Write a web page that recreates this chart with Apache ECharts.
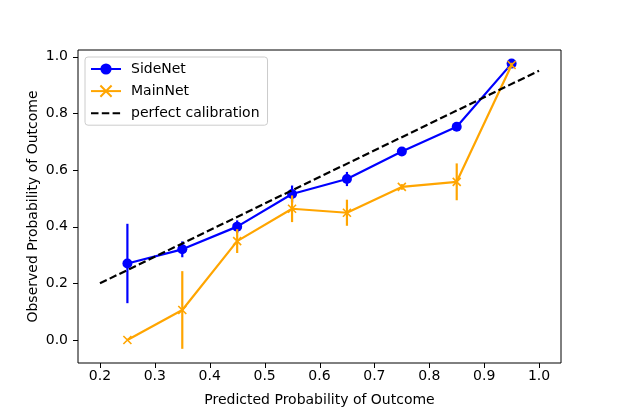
<!DOCTYPE html>
<html>
<head>
<meta charset="utf-8">
<script src="https://cdn.jsdelivr.net/npm/echarts@6/dist/echarts.min.js"></script>
<style>
  html, body { margin: 0; padding: 0; background: #fff; }
  #chart { width: 623px; height: 415px; }
</style>
</head>
<body>
<div id="chart"></div>
<script>
// bin centres and observed rates
const binCenters = [0.25, 0.35, 0.45, 0.55, 0.65, 0.75, 0.85, 0.95];
const sideNetObs = [0.27, 0.32, 0.40, 0.515, 0.568, 0.665, 0.752, 0.975];
const sideNetErr = [0.14, 0.028, 0.022, 0.03, 0.025, 0.008, 0.008, 0.006];
const mainNetObs = [0.0, 0.106, 0.349, 0.463, 0.449, 0.54, 0.558, 0.97];
const mainNetErr = [0.0, 0.137, 0.042, 0.047, 0.046, 0.01, 0.065, 0.008];
const calibX = [0.2, 1.0];
const calibY = [0.2, 0.95];
const xTicks = [0.2, 0.3, 0.4, 0.5, 0.6, 0.7, 0.8, 0.9, 1.0];
const yTicks = [0.0, 0.2, 0.4, 0.6, 0.8, 1.0];

const FONT = 'DejaVu Sans';

// plot area (matplotlib style view limits with 5% padding)
const W = 623, H = 415;
const plot = { left: 78, right: 62, top: 50, bottom: 52 };
const xView = [0.16, 1.04];
const yView = [-0.081, 1.023];

function pairs(xs, ys) {
    return xs.map((x, i) => [x, ys[i]]);
}

function errData(xs, ys, es) {
    return xs.map((x, i) => [x, ys[i] - es[i], ys[i] + es[i]]);
}

// sub-grids whose edges sit exactly on the first/last tick, so the label axes
// can start at a round min and still line up with the data axes
function tickGrids() {
    let x0 = xTicks[0], x1 = xTicks[xTicks.length - 1];
    let y0 = yTicks[0], y1 = yTicks[yTicks.length - 1];
    let pw = W - plot.left - plot.right;
    let ph = H - plot.top - plot.bottom;
    let dx = (x0 - xView[0]) / (xView[1] - xView[0]) * pw;
    let dx2 = (xView[1] - x1) / (xView[1] - xView[0]) * pw;
    let dy = (yView[1] - y1) / (yView[1] - yView[0]) * ph;
    let dy2 = (y0 - yView[0]) / (yView[1] - yView[0]) * ph;
    return [
        { left: plot.left + dx, right: plot.right + dx2, top: plot.top, bottom: plot.bottom },
        { left: plot.left, right: plot.right, top: plot.top + dy, bottom: plot.bottom + dy2 }
    ];
}

function errSeries(name, color, data, z) {
    return {
        name: name,
        type: 'custom',
        z: z,
        data: data,
        encode: { x: 0, y: [1, 2] },
        renderItem: function (params, api) {
            let lo = api.coord([api.value(0), api.value(1)]);
            let hi = api.coord([api.value(0), api.value(2)]);
            return {
                type: 'line',
                shape: { x1: lo[0], y1: lo[1], x2: hi[0], y2: hi[1] },
                style: { stroke: color, lineWidth: 2.2 }
            };
        }
    };
}

function labelAxis(gridIndex, ticks, margin) {
    return {
        type: 'value',
        gridIndex: gridIndex,
        min: ticks[0],
        max: ticks[ticks.length - 1],
        interval: ticks[1] - ticks[0],
        axisLine: { show: false },
        axisTick: { show: false },
        axisLabel: {
            show: true,
            margin: margin,
            fontSize: 14,
            color: '#000',
            fontFamily: FONT,
            formatter: v => v.toFixed(1)
        },
        splitLine: { show: false }
    };
}

const tg = tickGrids();

const chart = echarts.init(document.getElementById('chart'), null, { renderer: 'canvas' });
chart.setOption({
    animation: false,
    textStyle: { fontFamily: FONT },
    grid: [
        {
            left: plot.left,
            right: plot.right,
            top: plot.top,
            bottom: plot.bottom,
            show: true,
            borderColor: '#000',
            borderWidth: 1
        },
        Object.assign({ show: false }, tg[0]),
        Object.assign({ show: false }, tg[1])
    ],
    legend: {
        data: ['SideNet', 'MainNet', 'perfect calibration'],
        orient: 'vertical',
        left: 85,
        top: 57,
        padding: [5, 8, 5, 5],
        itemWidth: 30,
        itemHeight: 14,
        itemGap: 7,
        backgroundColor: 'rgba(255,255,255,0.8)',
        borderColor: '#cccccc',
        borderWidth: 1,
        borderRadius: 3,
        textStyle: { fontSize: 14, color: '#000', fontFamily: FONT, padding: [0, 0, 0, 5] }
    },
    xAxis: [
        {
            type: 'value',
            gridIndex: 0,
            min: xView[0],
            max: xView[1],
            name: 'Predicted Probability of Outcome',
            nameLocation: 'middle',
            nameGap: 30,
            nameTextStyle: { fontSize: 14, color: '#000', fontFamily: FONT },
            axisLine: { show: false, onZero: false },
            axisTick: { show: false },
            axisLabel: { show: false },
            splitLine: { show: false }
        },
        labelAxis(1, xTicks, 6),
        { type: 'value', gridIndex: 2, show: false, min: 0, max: 1 }
    ],
    yAxis: [
        {
            type: 'value',
            gridIndex: 0,
            min: yView[0],
            max: yView[1],
            name: 'Observed Probability of Outcome',
            nameLocation: 'middle',
            nameGap: 38,
            nameTextStyle: { fontSize: 14, color: '#000', fontFamily: FONT },
            axisLine: { show: false, onZero: false },
            axisTick: { show: false },
            axisLabel: { show: false },
            splitLine: { show: false }
        },
        { type: 'value', gridIndex: 1, show: false, min: 0, max: 1 },
        labelAxis(2, yTicks, 10)
    ],
    series: [
        errSeries('SideNet err', '#0000ff', errData(binCenters, sideNetObs, sideNetErr), 2),
        {
            name: 'SideNet',
            type: 'line',
            z: 3,
            data: pairs(binCenters, sideNetObs),
            symbol: 'circle',
            symbolSize: 10,
            showSymbol: true,
            itemStyle: { color: '#0000ff' },
            lineStyle: { color: '#0000ff', width: 2.2 }
        },
        errSeries('MainNet err', '#ffa500', errData(binCenters, mainNetObs, mainNetErr), 4),
        {
            name: 'MainNet',
            type: 'line',
            z: 5,
            data: pairs(binCenters, mainNetObs),
            symbol: 'path://M0,0L10,10M0,10L10,0',
            symbolSize: 8,
            showSymbol: true,
            itemStyle: { color: 'none', borderColor: '#ffa500', borderWidth: 1.6 },
            lineStyle: { color: '#ffa500', width: 2.2 }
        },
        {
            name: 'perfect calibration',
            type: 'line',
            z: 6,
            data: pairs(calibX, calibY),
            symbol: 'none',
            itemStyle: { color: 'rgba(0,0,0,0)', borderColor: 'rgba(0,0,0,0)' },
            lineStyle: { color: '#000', width: 2.2, type: [7.5, 3.3] }
        }
    ]
});

// outward tick marks on the bottom and left spines, placed through the data axes
let tickMarks = [];
xTicks.forEach(v => {
    let p = chart.convertToPixel({ gridIndex: 0 }, [v, yView[0]]);
    let x = Math.round(p[0]) + 0.5;
    tickMarks.push({
        type: 'line',
        silent: true,
        z: 10,
        shape: { x1: x, y1: p[1], x2: x, y2: p[1] + 5 },
        style: { stroke: '#000', lineWidth: 1 }
    });
});
yTicks.forEach(v => {
    let p = chart.convertToPixel({ gridIndex: 0 }, [xView[0], v]);
    let y = Math.round(p[1]) + 0.5;
    tickMarks.push({
        type: 'line',
        silent: true,
        z: 10,
        shape: { x1: p[0] - 5, y1: y, x2: p[0], y2: y },
        style: { stroke: '#000', lineWidth: 1 }
    });
});
chart.setOption({ graphic: tickMarks });
</script>
</body>
</html>
